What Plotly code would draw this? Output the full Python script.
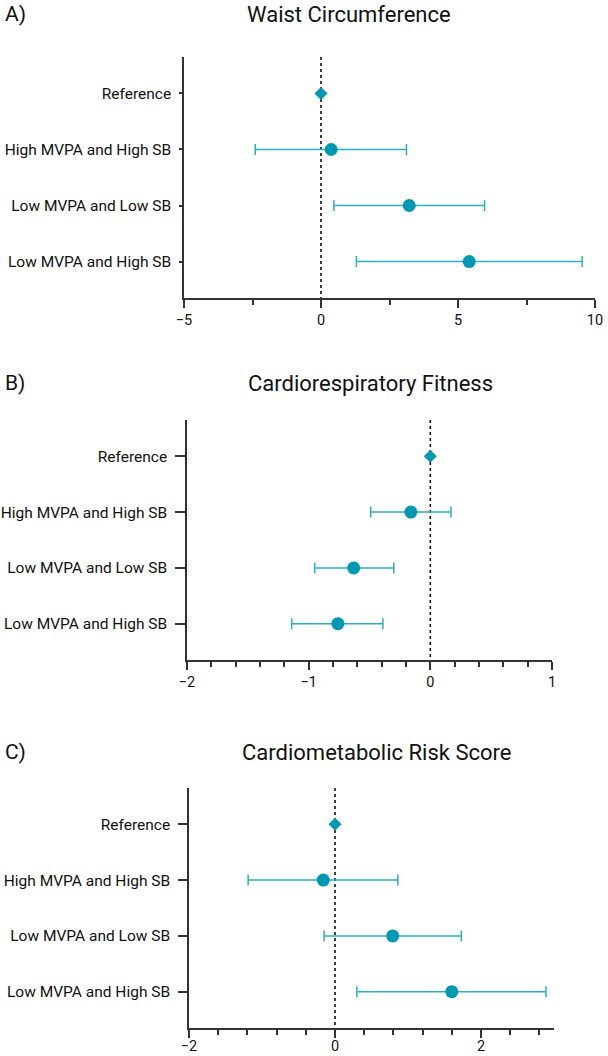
import plotly.graph_objects as go

categories = ["Reference", "High MVPA and High SB", "Low MVPA and Low SB", "Low MVPA and High SB"]

waist_est = [0, 0.37, 3.22, 5.41]
waist_lo = [0, -2.40, 0.47, 1.29]
waist_hi = [0, 3.12, 5.97, 9.53]

crf_est = [0, -0.16, -0.63, -0.76]
crf_lo = [0, -0.49, -0.95, -1.14]
crf_hi = [0, 0.17, -0.30, -0.39]

cmr_est = [0, -0.16, 0.79, 1.60]
cmr_lo = [0, -1.19, -0.15, 0.30]
cmr_hi = [0, 0.86, 1.73, 2.89]

titles = ["Waist Circumference", "Cardiorespiratory Fitness", "Cardiometabolic Risk Score"]
letters = ["A)", "B)", "C)"]

W, H = 608, 1056
FONT = "Roboto"
DOT = "#0099B5"
BAR = "#2AAFC6"
AX = "#333333"

panels = [
    dict(est=waist_est, lo=waist_lo, hi=waist_hi, xr=[-5, 10], dt=5, mdt=2.5,
         px=(184, 595), py=(57, 298), ytl=3, xso=0, title_x=349, title_y=14, lab_y=14),
    dict(est=crf_est, lo=crf_lo, hi=crf_hi, xr=[-2, 1], dt=1, mdt=0.2,
         px=(187, 552), py=(420, 660), ytl=10, xso=0, title_x=370, title_y=383, lab_y=383),
    dict(est=cmr_est, lo=cmr_lo, hi=cmr_hi, xr=[-2, 3], dt=2, mdt=0.4,
         px=(189, 554), py=(788, 1028), ytl=9, xso=-4, title_x=376, title_y=752, lab_y=752),
]

fig = go.Figure()
layout = dict(
    width=W, height=H, margin=dict(l=0, r=0, t=0, b=0),
    paper_bgcolor="white", plot_bgcolor="white", showlegend=False,
    font=dict(family=FONT, color="#111111"),
)
annotations = []
shapes = []
yr = [3.65, -0.65]
idx = list(range(len(categories)))

for i, p in enumerate(panels):
    n = "" if i == 0 else str(i + 1)
    xa, ya = "x" + n, "y" + n
    est, lo, hi = p["est"], p["lo"], p["hi"]
    # reference diamond
    fig.add_trace(go.Scatter(
        x=[est[0]], y=[idx[0]], mode="markers", xaxis=xa, yaxis=ya,
        marker=dict(symbol="diamond", size=10, color=DOT), hoverinfo="skip"))
    # other groups with CI
    fig.add_trace(go.Scatter(
        x=est[1:], y=idx[1:], mode="markers", xaxis=xa, yaxis=ya,
        marker=dict(symbol="circle", size=13, color=DOT),
        error_x=dict(type="data", symmetric=False,
                     array=[h - e for h, e in zip(hi[1:], est[1:])],
                     arrayminus=[e - l for e, l in zip(est[1:], lo[1:])],
                     color=BAR, thickness=1.5, width=5.5),
        hoverinfo="skip"))
    x0, x1 = p["px"]
    y0, y1 = p["py"]
    layout["xaxis" + n] = dict(
        domain=[x0 / W, x1 / W], anchor=ya, range=p["xr"], tick0=p["xr"][0], dtick=p["dt"],
        showgrid=False, zeroline=False, showline=True, linecolor=AX, linewidth=1.5,
        ticks="outside", ticklen=8, tickwidth=1.5, tickcolor=AX,
        ticklabelstandoff=p["xso"],
        tickfont=dict(family=FONT, size=14.5, color="#111111"),
        minor=dict(ticks="outside", ticklen=5, tickwidth=1.5, tickcolor=AX,
                   dtick=p["mdt"], tick0=p["xr"][0], showgrid=False),
        fixedrange=True, automargin=False,
    )
    layout["yaxis" + n] = dict(
        domain=[1 - y1 / H, 1 - y0 / H], anchor=xa, range=yr,
        tickmode="array", tickvals=idx, ticktext=categories,
        showgrid=False, zeroline=False, showline=True, linecolor=AX, linewidth=1.5,
        ticks="outside", ticklen=p["ytl"], tickwidth=1.5, tickcolor=AX,
        ticklabelstandoff=5,
        tickfont=dict(family=FONT, size=15.5, color="#111111"),
        fixedrange=True, automargin=False,
    )
    shapes.append(dict(type="line", xref=xa, yref=ya, x0=0, x1=0, y0=yr[1], y1=yr[0],
                       line=dict(color="black", width=1.5, dash="dot"), layer="below"))
    annotations.append(dict(text=titles[i], x=p["title_x"] / W, y=1 - p["title_y"] / H,
                            xref="paper", yref="paper", showarrow=False,
                            xanchor="center", yanchor="middle",
                            font=dict(family=FONT, size=22, color="#111111")))
    annotations.append(dict(text=letters[i], x=3 / W, y=1 - p["lab_y"] / H,
                            xref="paper", yref="paper", showarrow=False,
                            xanchor="left", yanchor="middle",
                            font=dict(family=FONT, size=21, color="#111111")))

layout["annotations"] = annotations
layout["shapes"] = shapes
fig.update_layout(**layout)
fig.write_html("out.html")
